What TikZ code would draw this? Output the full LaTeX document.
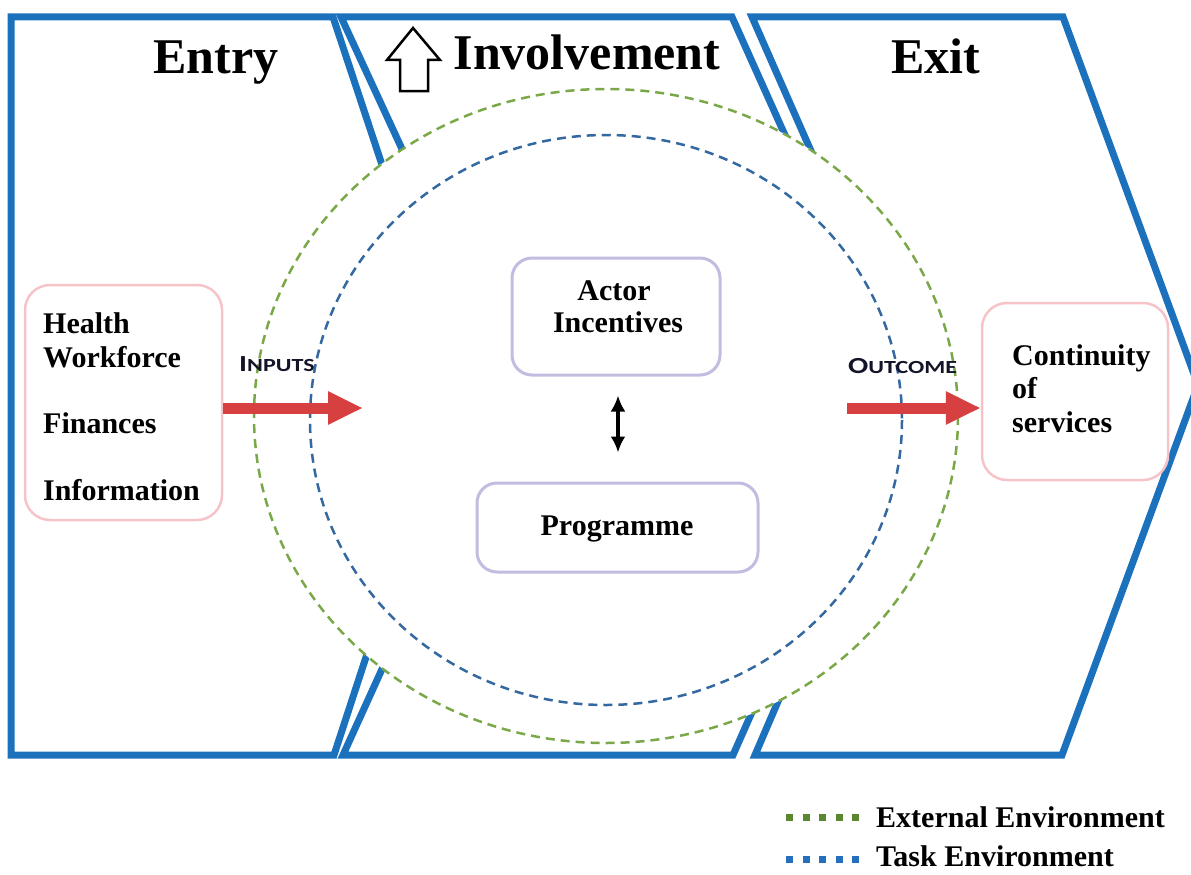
\documentclass[tikz,border=0pt]{standalone}
\usepackage{fontspec}
\setmainfont{Liberation Serif}
\newfontfamily\calibfont{Carlito}
\usetikzlibrary{arrows.meta}
\definecolor{chevblue}{RGB}{28,113,189}
\definecolor{ringgreen}{RGB}{122,168,72}
\definecolor{ringblue}{RGB}{52,104,160}
\definecolor{pinkc}{RGB}{246,196,200}
\definecolor{lavc}{RGB}{196,188,224}
\definecolor{redc}{RGB}{214,64,64}
\definecolor{leggreen}{RGB}{90,135,50}
\definecolor{legblue}{RGB}{36,112,190}
\definecolor{capc}{RGB}{20,20,40}
\begin{document}
\begin{tikzpicture}[x=1pt,y=-1pt,
  chev/.style={draw=chevblue,line width=7pt,line join=miter},
  ring/.style={line width=2.5pt,dash pattern=on 9pt off 6pt},
  title/.style={font=\fontsize{50}{60}\selectfont\bfseries,anchor=base,inner sep=0pt},
  lbl/.style={font=\fontsize{30}{36}\selectfont\bfseries,anchor=base west,inner sep=0pt},
  clbl/.style={font=\fontsize{30}{36}\selectfont\bfseries,anchor=base,inner sep=0pt},
  leglbl/.style={font=\fontsize{30}{36}\selectfont\bfseries,anchor=base west,inner sep=0pt},
  caplbl/.style={font=\calibfont\bfseries,text=capc,anchor=base west,inner sep=0pt},
  pinkbox/.style={draw=pinkc,line width=2.5pt,rounded corners=25pt,inner sep=0pt},
  lavbox/.style={draw=lavc,line width=3pt,rounded corners=20pt,inner sep=0pt},
  redarr/.style={draw=redc,line width=11pt,-{Triangle[length=35pt,width=31pt,fill=redc]}},
  dblarr/.style={line width=4pt,{Latex[length=16pt,width=15pt]}-{Latex[length=16pt,width=15pt]}},
  legdots/.style={line width=7pt,dash pattern=on 7pt off 9.5pt}
]
\useasboundingbox (0,0) rectangle (1191,875);
\clip (0,0) rectangle (1191,875);

% chevrons
\draw[chev] (11,17) -- (333,17) -- (455,385) -- (334,755) -- (11,755) -- cycle;
\draw[chev] (341,17) -- (732,17) -- (897,385) -- (733,755) -- (343,755) -- (511,385) -- cycle;
\draw[chev] (752,17) -- (1063,17) -- (1198,385) -- (1062,755) -- (755,755) -- (914,385) -- cycle;

% environments
\draw[ring,draw=ringgreen,fill=white] (606,416) ellipse [x radius=352, y radius=327];
\draw[ring,draw=ringblue] (606,420) ellipse [x radius=296, y radius=285];

% titles
\node[title] (entry) at (216,74) {Entry};
\node[title] (invol) at (587,70) {Involvement};
\node[title] (exit) at (936,74) {Exit};
\draw[line width=2.5pt,line join=miter] (400,91) -- (400,60) -- (387,60) -- (413,28) -- (440,60) -- (428,60) -- (428,91) -- cycle;

% left box
\node[pinkbox,minimum width=197pt,minimum height=235pt] (lbox) at (123.5,402.5) {};
\node[lbl] (hw1) at (43,333) {Health};
\node[lbl] (hw2) at (43,367) {Workforce};
\node[lbl] (fin) at (43,433) {Finances};
\node[lbl] (info) at (43,500) {Information};

% right box
\node[pinkbox,minimum width=186pt,minimum height=177pt] (rbox) at (1075,391.5) {};
\node[lbl] (cs1) at (1012,365) {Continuity};
\node[lbl] (cs2) at (1012,398) {of};
\node[lbl] (cs3) at (1012,432) {services};

% centre boxes
\node[lavbox,minimum width=208pt,minimum height=117pt] (actor) at (616,316.5) {};
\node[clbl] (act1) at (614,300) {Actor};
\node[clbl] (act2) at (618,332) {Incentives};
\node[lavbox,minimum width=281pt,minimum height=89pt] (prog) at (617.5,527.5) {};
\node[clbl] (progt) at (617,535) {Programme};
\draw[dblarr,shorten <=19pt,shorten >=29pt] (actor.south -| 618,0) -- (prog.north -| 618,0);

% inputs / outcome
\node[caplbl] (inlbl) at (239,371) {\scalebox{1.3}[1]{\fontsize{23}{28}\selectfont I\fontsize{18.5}{22}\selectfont NPUTS}};
\node[caplbl] (outlbl) at (848,373) {\scalebox{1.3}[1]{\fontsize{23}{28}\selectfont O\fontsize{18.5}{22}\selectfont UTCOME}};
\coordinate (inE) at (363,408);
\coordinate (outS) at (847,408);
\draw[redarr] ([yshift=-5.5pt]lbox.east) -- (inE);
\draw[redarr] (outS) -- (rbox.west |- outS);

% legend
\coordinate (lg1a) at (786,817);
\coordinate (lg1b) at (862,817);
\coordinate (lg2a) at (786,859);
\coordinate (lg2b) at (862,859);
\draw[legdots,draw=leggreen] (lg1a) -- (lg1b);
\draw[legdots,draw=legblue] (lg2a) -- (lg2b);
\node[leglbl] (ext) at (876,827) {External Environment};
\node[leglbl] (task) at (876,866) {Task Environment};
\end{tikzpicture}
\end{document}
